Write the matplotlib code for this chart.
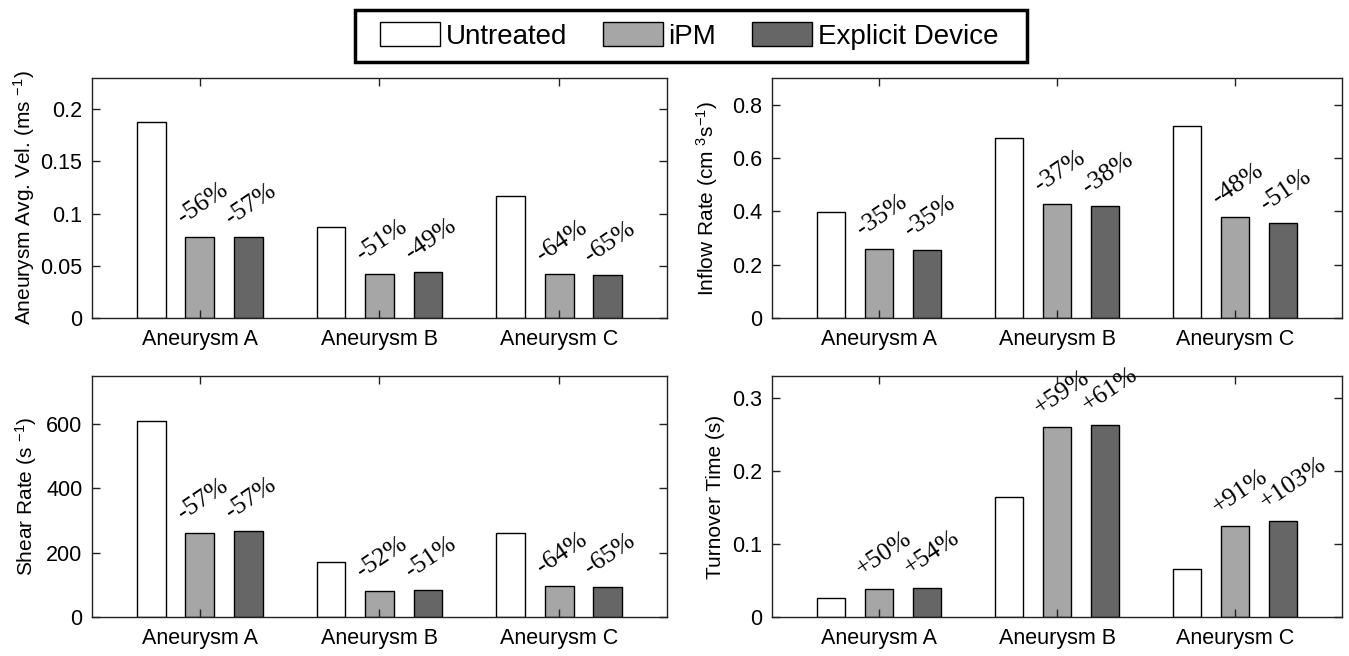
import matplotlib
matplotlib.use("Agg")
import matplotlib.pyplot as plt
from matplotlib.patches import Rectangle
import numpy as np

plt.rcParams["font.family"] = ["Liberation Sans", "DejaVu Sans"]
plt.rcParams["mathtext.fontset"] = "custom"
plt.rcParams["mathtext.rm"] = "Liberation Sans"
plt.rcParams["mathtext.it"] = "Liberation Sans:italic"
plt.rcParams["mathtext.bf"] = "Liberation Sans:bold"

groups = ["Aneurysm A", "Aneurysm B", "Aneurysm C"]
series_names = ["Untreated", "iPM", "Explicit Device"]
colors = ["#ffffff", "#a6a6a6", "#666666"]

# Aneurysm avg. velocity (m/s)
vel_untreated = [0.188, 0.087, 0.117]
vel_ipm = [0.078, 0.0425, 0.042]
vel_device = [0.0775, 0.044, 0.041]
vel_ipm_pct = ["-56%", "-51%", "-64%"]
vel_device_pct = ["-57%", "-49%", "-65%"]

# Inflow rate (cm^3/s)
inflow_untreated = [0.398, 0.674, 0.721]
inflow_ipm = [0.259, 0.426, 0.378]
inflow_device = [0.256, 0.419, 0.355]
inflow_ipm_pct = ["-35%", "-37%", "-48%"]
inflow_device_pct = ["-35%", "-38%", "-51%"]

# Shear rate (1/s)
shear_untreated = [611, 170, 262]
shear_ipm = [262, 81, 96]
shear_device = [266, 83, 93]
shear_ipm_pct = ["-57%", "-52%", "-64%"]
shear_device_pct = ["-57%", "-51%", "-65%"]

# Turnover time (s)
turn_untreated = [0.0266, 0.164, 0.0653]
turn_ipm = [0.0384, 0.260, 0.124]
turn_device = [0.0403, 0.263, 0.131]
turn_ipm_pct = ["+50%", "+59%", "+91%"]
turn_device_pct = ["+54%", "+61%", "+103%"]

panels = [
    dict(vals=[vel_untreated, vel_ipm, vel_device], pct=[vel_ipm_pct, vel_device_pct],
         ylabel=r"Aneurysm Avg. Vel. (ms $^{-1}$)", ylim=0.23,
         yticks=[0, 0.05, 0.1, 0.15, 0.2], yticklabels=["0", "0.05", "0.1", "0.15", "0.2"],
         rect=[0.0682, 0.5152, 0.4262, 0.3659], labx=-0.095),
    dict(vals=[inflow_untreated, inflow_ipm, inflow_device], pct=[inflow_ipm_pct, inflow_device_pct],
         ylabel=r"Inflow Rate (cm $^{3}$s$^{-1}$)", ylim=0.9,
         yticks=[0, 0.2, 0.4, 0.6, 0.8], yticklabels=["0", "0.2", "0.4", "0.6", "0.8"],
         rect=[0.5723, 0.5152, 0.4225, 0.3659], labx=-0.091),
    dict(vals=[shear_untreated, shear_ipm, shear_device], pct=[shear_ipm_pct, shear_device_pct],
         ylabel=r"Shear Rate (s $^{-1}$)", ylim=750,
         yticks=[0, 200, 400, 600], yticklabels=["0", "200", "400", "600"],
         rect=[0.0682, 0.0595, 0.4262, 0.3674], labx=-0.092),
    dict(vals=[turn_untreated, turn_ipm, turn_device], pct=[turn_ipm_pct, turn_device_pct],
         ylabel="Turnover Time (s)", ylim=0.33,
         yticks=[0, 0.1, 0.2, 0.3], yticklabels=["0", "0.1", "0.2", "0.3"],
         rect=[0.5723, 0.0595, 0.4225, 0.3674], labx=-0.082),
]

fig = plt.figure(figsize=(13.49, 6.56), dpi=100)

x = np.arange(1, len(groups) + 1)
offsets = [-0.27, 0.0, 0.27]
width = 0.16

handles = []
for p in panels:
    ax = fig.add_axes(p["rect"])
    for i, vals in enumerate(p["vals"]):
        bars = ax.bar(x + offsets[i], vals, width, color=colors[i], edgecolor="black",
                      linewidth=1.0, label=series_names[i])
        if len(handles) < 3:
            handles.append(bars)
    # percentage change annotations above the treated bars
    for i, labels in enumerate(p["pct"], start=1):
        for xi, v, txt in zip(x, p["vals"][i], labels):
            ax.annotate(txt, (xi + offsets[i] - width / 2, v), xytext=(0, 6),
                        textcoords="offset points", rotation=34, rotation_mode="anchor",
                        ha="left", va="bottom", fontsize=18.5, family="Liberation Serif")
    ax.set_xlim(0.4, 3.6)
    ax.set_ylim(0, p["ylim"])
    ax.set_xticks(x)
    ax.set_xticklabels(groups)
    ax.set_yticks(p["yticks"])
    ax.set_yticklabels(p["yticklabels"])
    ax.tick_params(direction="in", top=True, right=True, length=6, width=1.0,
                   labelsize=15.5, color="#222222")
    ax.tick_params(axis="x", pad=8)
    ax.tick_params(axis="y", pad=7)
    ax.set_ylabel(p["ylabel"], fontsize=15)
    ax.yaxis.set_label_coords(p["labx"], 0.5)
    for s in ax.spines.values():
        s.set_linewidth(1.0)
        s.set_color("#222222")

leg = fig.legend(handles, series_names, loc="center", bbox_to_anchor=(0.511, 0.945),
                 ncol=3, fontsize=20, frameon=False, handlelength=2.15, handleheight=0.95,
                 handletextpad=0.2, columnspacing=1.3, borderpad=0.4)

# legend frame drawn as a box in figure coordinates
fig.patches.append(Rectangle((355 / 1349, 1 - 62 / 656), 672 / 1349, 52 / 656,
                             transform=fig.transFigure, fill=False, edgecolor="black",
                             linewidth=2.5, zorder=5))

fig.savefig("out.png", dpi=100)
